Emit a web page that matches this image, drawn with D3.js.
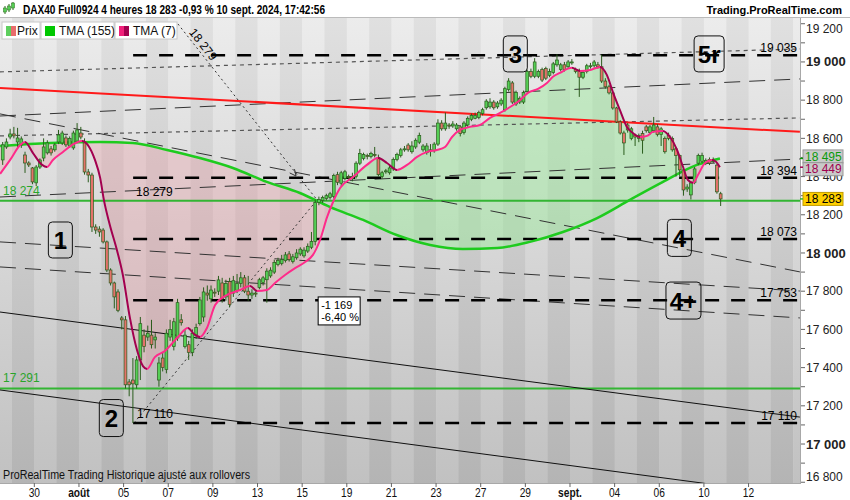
<!DOCTYPE html>
<html>
<head>
<meta charset="utf-8">
<script src="https://cdn.jsdelivr.net/npm/d3@7"></script>
<style>
  body { margin: 0; background: #fff; }
  svg { display: block; font-family: "Liberation Sans", Arial, sans-serif; }
</style>
</head>
<body>
<div id="chart"></div>
<script>
// ---- data ----
// bar index 0 = first 4h bar of 29 July, 6 bars per trading day
const firstBar = -3;
const candles = [ // [open, high, low, close]
  [18487,18581,18461,18566],[18555,18600,18545,18581],[18607,18650,18595,18623],
  // 29 Jul
  [18623,18660,18600,18613],[18581,18655,18555,18602],[18566,18610,18550,18597],[18513,18530,18419,18471],[18471,18480,18450,18461],[18445,18450,18360,18372],
  // 30 Jul
  [18367,18460,18350,18450],[18450,18495,18440,18487],[18497,18600,18480,18555],[18524,18590,18515,18576],[18545,18560,18510,18524],[18540,18575,18530,18566],
  // 31 Jul
  [18581,18644,18570,18618],[18576,18640,18565,18628],[18602,18615,18555,18566],[18560,18610,18550,18600],[18550,18640,18540,18628],[18586,18680,18575,18644],
  // 1 Aug
  [18628,18660,18595,18607],[18576,18600,18410,18424],[18424,18440,18370,18408],[18408,18420,18110,18136],[18136,18150,18100,18120],[18125,18140,18085,18110],
  // 2 Aug
  [18120,18130,18050,18058],[18058,18065,17900,17911],[17911,17920,17830,17843],[17843,17850,17710,17770],[17796,17810,17690,17700],[17660,17670,17600,17650],
  // 5 Aug
  [17650,17670,17290,17310],[17325,17340,17250,17310],[17335,17450,17110,17315],[17310,17460,17290,17440],[17440,17665,17335,17630],[17570,17600,17480,17510],
  // 6 Aug
  [17560,17620,17540,17580],[17570,17650,17500,17520],[17545,17580,17500,17560],[17335,17455,17300,17424],[17450,17480,17380,17400],[17390,17600,17370,17580],
  // 7 Aug
  [17560,17650,17540,17600],[17510,17660,17490,17640],[17555,17760,17540,17740],[17650,17680,17620,17635],[17510,17600,17500,17570],[17520,17540,17440,17480],
  // 8 Aug
  [17480,17600,17460,17580],[17570,17630,17550,17610],[17630,17770,17620,17754],[17665,17820,17640,17796],[17790,17830,17750,17780],[17760,17830,17740,17806],
  // 9 Aug
  [17795,17815,17770,17790],[17800,17880,17780,17859],[17843,17870,17740,17760],[17770,17860,17750,17840],[17850,17870,17715,17730],[17790,17880,17770,17855],
  // 12 Aug
  [17805,17890,17790,17840],[17840,17900,17820,17870],[17870,17885,17790,17800],[17800,17880,17750,17780],[17780,17810,17760,17790],[17790,17800,17770,17785],
  // 13 Aug
  [17820,17870,17810,17860],[17845,17880,17830,17870],[17860,17920,17740,17905],[17880,17925,17870,17910],[17900,17965,17890,17950],[17940,17975,17930,17960],
  // 14 Aug
  [17945,17990,17935,17965],[17960,18005,17950,17990],[17995,18010,17955,17965],[17955,17995,17945,17980],[17975,18020,17965,18000],[17995,18030,17985,18020],
  // 15 Aug
  [17985,18030,17975,18015],[18010,18050,18000,18035],[18030,18110,18020,18060],[18060,18280,18040,18265],[18265,18295,18250,18280],[18275,18300,18262,18290],
  // 16 Aug
  [18285,18310,18275,18300],[18290,18320,18280,18310],[18295,18415,18285,18405],[18410,18425,18355,18370],[18365,18430,18350,18420],[18390,18435,18380,18425],
  // 19 Aug
  [18400,18410,18380,18395],[18390,18420,18375,18400],[18400,18480,18390,18470],[18470,18545,18460,18520],[18495,18525,18485,18515],[18510,18520,18490,18505],
  // 20 Aug
  [18505,18530,18495,18520],[18515,18555,18500,18510],[18500,18515,18400,18410],[18400,18430,18390,18420],[18425,18440,18415,18430],[18420,18455,18410,18445],
  // 21 Aug
  [18440,18500,18430,18490],[18490,18525,18480,18515],[18510,18550,18500,18540],[18540,18560,18530,18545],[18565,18575,18530,18540],[18530,18585,18520,18560],
  // 22 Aug
  [18555,18600,18545,18590],[18580,18630,18570,18615],[18540,18570,18530,18560],[18525,18575,18515,18560],[18540,18570,18505,18535],[18535,18580,18525,18570],
  // 23 Aug
  [18570,18700,18560,18680],[18680,18695,18640,18650],[18650,18735,18640,18680],[18670,18680,18650,18665],[18665,18690,18655,18675],[18650,18680,18640,18670],
  // 26 Aug
  [18660,18670,18610,18625],[18630,18690,18620,18680],[18670,18715,18660,18705],[18700,18730,18690,18720],[18705,18735,18700,18720],[18710,18745,18700,18735],
  // 27 Aug
  [18730,18760,18720,18750],[18760,18805,18750,18795],[18765,18810,18755,18790],[18790,18800,18750,18760],[18765,18795,18755,18785],[18780,18810,18770,18800],
  // 28 Aug
  [18750,18870,18740,18860],[18855,18915,18845,18900],[18890,18900,18780,18790],[18780,18850,18770,18840],[18790,18820,18780,18810],[18790,18850,18780,18840],
  // 29 Aug
  [18845,18960,18835,18950],[18950,18965,18915,18925],[18925,19020,18915,19000],[18925,18960,18915,18950],[18960,18970,18895,18905],[18965,18975,18905,18915],
  // 30 Aug
  [18930,18965,18920,18950],[18945,19000,18935,18990],[18985,19040,18975,19010],[18960,18995,18950,18985],[18985,19000,18950,18960],[18975,19010,18965,19000],
  // 2 Sep
  [18995,19015,18985,19000],[18960,18970,18940,18950],[18955,18965,18817,18920],[18920,18955,18910,18945],[18950,18990,18940,18980],[18975,18995,18965,18980],
  // 3 Sep
  [18980,19010,18970,19000],[18985,19000,18965,18975],[18975,19037,18890,18900],[18900,18915,18860,18870],[18870,18880,18830,18838],[18838,18845,18750,18759],
  // 4 Sep
  [18759,18765,18680,18686],[18686,18695,18620,18628],[18628,18640,18513,18576],[18670,18680,18630,18644],[18600,18660,18590,18650],[18618,18625,18560,18607],
  // 5 Sep
  [18615,18625,18580,18600],[18625,18640,18520,18590],[18660,18670,18630,18640],[18630,18670,18620,18660],[18640,18712,18630,18670],[18660,18675,18610,18620],
  // 6 Sep
  [18620,18660,18560,18650],[18600,18610,18520,18530],[18615,18630,18590,18600],[18600,18610,18530,18540],[18545,18555,18400,18510],[18510,18515,18400,18435],
  // 9 Sep
  [18435,18445,18300,18330],[18335,18360,18320,18345],[18304,18375,18280,18367],[18370,18450,18360,18440],[18470,18520,18460,18510],[18480,18525,18470,18510],
  // 10 Sep
  [18470,18495,18460,18485],[18490,18500,18460,18470],[18480,18500,18470,18485],[18460,18470,18310,18320],[18310,18320,18246,18283]
];

// TMA(7) and TMA(155) read at sample bars
const tma7Bar = [-3.7,-1.0,1.7,3.0,5.1,7.6,8.9,10.5,13.2,15.6,18.3,19.9,21.8,23.2,24.2,25.8,27.7,29.3,31.2,33.1,34.7,35.8,37.9,40.6,44.1,46.8,48.4,50.0,51.9,54.1,56.8,60.8,63.5,65.4,68.0,70.2,72.9,75.6,78.3,80.4,82.3,84.2,85.8,87.7,91.2,94.9,97.9,100.3,103.0,105.7,108.4,111.1,113.7,115.9,117.8,119.9,122.6,125.3,128.0,130.7,133.4,136.1,138.2,140.9,143.3,144.9,146.8,150.0,152.2,154.9,157.6,159.4,161.1,162.9,164.8,166.4,168.3,170.2,171.8,174.5,176.4,178.3,179.9,181.2,182.6,183.9,185.8,187.7,188.8,189.8];
const tma7Val = [18414,18487,18565,18581,18524,18461,18450,18487,18529,18565,18586,18565,18487,18393,18278,18147,18016,17885,17660,17492,17408,17393,17455,17487,17560,17607,17576,17560,17607,17728,17775,17806,17827,17801,17806,17843,17885,17921,17953,17990,18068,18188,18267,18340,18398,18461,18497,18471,18435,18461,18503,18529,18539,18555,18607,18644,18660,18670,18707,18733,18764,18801,18838,18859,18890,18922,18943,18969,18953,18958,18974,18932,18838,18749,18660,18628,18607,18613,18634,18639,18607,18539,18450,18382,18367,18408,18471,18487,18477,18449];
const tma155Bar = [-3.7,9.7,23.2,32.0,41.2,50.0,58.9,68.0,76.9,84.9,93.9,102.9,111.9,120.7,129.9,138.7,147.6,156.8,165.6,174.5,183.6,189.8];
const tma155Val = [18560,18576,18581,18576,18539,18497,18445,18372,18314,18241,18173,18094,18042,18021,18026,18058,18110,18183,18278,18372,18461,18495];

// x axis: one label every second trading day (day 0 = 29 Jul)
const dayLabels = ['30','août','05','07','09','13','15','19','21','23','27','29','sept.','04','06','10','12'];
const dayLabelIdx = [1,3,5,7,9,11,13,15,17,19,21,23,25,27,29,31,33];
const boldDayLabels = ['août','sept.'];
const yTicks = d3.range(16800, 19201, 200);

// drawn objects
const levelValues = [19035, 18394, 18073, 17753, 17110];
const levelStartBar = 32.06;
const greenLevels = [18274, 17291];
const redLine = [[-3.73, 18864], [211.3, 18634]];
const shortDashLines = [
  [[-3.73, 18948], [211.3, 19068]],
  [[-3.73, 18613], [211.3, 18707]]
];
const longDashLines = [
  [[-3.73, 18717], [211.3, 18911]],
  [[-3.73, 18728], [211.3, 17901]],
  [[-3.73, 18293], [211.3, 18492]],
  [[-3.73, 18058], [211.3, 17801]],
  [[-3.73, 17927], [211.3, 17660]]
];
const solidLines = [
  [[-3.73, 17691], [211.3, 17141]],
  [[-3.73, 17283], [211.3, 16728]]
];
const dottedLines = [
  [[44.1, 19199], [81.5, 18278]],
  [[32.3, 17110], [81.5, 18278]]
];
const arrowAt = [75.85, 18403];
const waveBoxes = [
  { label: '1',  bar: 12.5,  price: 18068, w: 24, h: 36 },
  { label: '2',  bar: 26.2,  price: 17136, w: 24, h: 37 },
  { label: '3',  bar: 134.8, price: 19042, w: 24, h: 36 },
  { label: '4',  bar: 178.9, price: 18079, w: 24, h: 37 },
  { label: '4+', bar: 180.0, price: 17751, w: 35, h: 37 },
  { label: '5r', bar: 186.9, price: 19042, w: 30, h: 36 }
];
const priceTags = [
  { text: '18 495', value: 18495, color: '#0a9a0a', bg: '#c9c9c9', shift: -2 },
  { text: '18 449', value: 18449, color: '#a0004f', bg: '#c9c9c9', shift: 2 },
  { text: '18 283', value: 18283, color: '#000',    bg: '#ffd000', shift: 0 }
];

// ---- chart ----
const W = 850, H = 500;
const plot = { left: 0, right: 800, top: 18, bottom: 483 };

const svg = d3.select('#chart').append('svg').attr('width', W).attr('height', H);
const defs = svg.append('defs');

const x = d3.scaleLinear().domain([-3.726, 211.33]).range([plot.left, plot.right]);
const y = d3.scaleLinear().domain([16796, 19230]).range([plot.bottom, plot.top]);

const fmt = v => d3.format(',')(v).replace(/,/g, ' ');

svg.append('rect').attr('width', W).attr('height', H).attr('fill', '#fff');

defs.append('clipPath').attr('id', 'plotClip')
  .append('rect')
  .attr('x', plot.left).attr('y', plot.top)
  .attr('width', plot.right - plot.left).attr('height', plot.bottom - plot.top);

// band gradients
function bandGrad(id, top, bottom) {
  const g = defs.append('linearGradient').attr('id', id)
    .attr('x1', 0).attr('y1', 0).attr('x2', 0).attr('y2', 1);
  g.append('stop').attr('offset', '0%').attr('stop-color', top);
  g.append('stop').attr('offset', '100%').attr('stop-color', bottom);
}
bandGrad('bandLight', '#ececec', '#c1c1c1');
bandGrad('bandDark', '#e0e0e0', '#b4b4b4');

const g = svg.append('g').attr('clip-path', 'url(#plotClip)');

// day bands
const days = d3.range(-1, 36);
g.selectAll('.band').data(days).enter().append('rect')
  .attr('class', 'band')
  .attr('x', d => x(6 * d - 0.5))
  .attr('y', plot.top)
  .attr('width', d => x(6 * d + 5.5) - x(6 * d - 0.5) + 0.5)
  .attr('height', plot.bottom - plot.top)
  .attr('fill', d => (d % 2 === 0) ? 'url(#bandDark)' : 'url(#bandLight)');

// fills between TMA(7) and TMA(155)
const t7 = tma7Bar.map((b, i) => ({ b, v: tma7Val[i] }));
const t155 = tma155Bar.map((b, i) => ({ b, v: tma155Val[i] }));
const curve = d3.curveMonotoneX;

defs.append('clipPath').attr('id', 'below7').append('path')
  .attr('d', d3.area().curve(curve).x(d => x(d.b)).y0(plot.bottom + 20).y1(d => y(d.v))(t7));
defs.append('clipPath').attr('id', 'above7').append('path')
  .attr('d', d3.area().curve(curve).x(d => x(d.b)).y0(plot.top - 20).y1(d => y(d.v))(t7));

g.append('path')
  .attr('d', d3.area().curve(curve).x(d => x(d.b)).y0(plot.top - 20).y1(d => y(d.v))(t155))
  .attr('clip-path', 'url(#below7)')
  .attr('fill', 'rgba(150,235,150,0.45)');
g.append('path')
  .attr('d', d3.area().curve(curve).x(d => x(d.b)).y0(plot.bottom + 20).y1(d => y(d.v))(t155))
  .attr('clip-path', 'url(#above7)')
  .attr('fill', 'rgba(240,150,160,0.3)');

// green horizontal levels
g.selectAll('.glevel').data(greenLevels).enter().append('line')
  .attr('x1', plot.left).attr('x2', plot.right)
  .attr('y1', d => y(d)).attr('y2', d => y(d))
  .attr('stroke', '#33b533').attr('stroke-width', 2);

// trend lines
function drawSeg(seg, stroke, width, dash) {
  g.append('line')
    .attr('x1', x(seg[0][0])).attr('y1', y(seg[0][1]))
    .attr('x2', x(seg[1][0])).attr('y2', y(seg[1][1]))
    .attr('stroke', stroke).attr('stroke-width', width)
    .attr('stroke-dasharray', dash);
}
shortDashLines.forEach(s => drawSeg(s, '#555', 1.2, '4,4'));
longDashLines.forEach(s => drawSeg(s, '#333', 1, '16,9'));
solidLines.forEach(s => drawSeg(s, '#111', 1, null));
drawSeg(redLine, '#ff1a1a', 2, null);
dottedLines.forEach(s => drawSeg(s, '#333', 1, '2,3'));

// arrow head on the dotted line
{
  const p0 = [x(dottedLines[0][0][0]), y(dottedLines[0][0][1])];
  const p1 = [x(dottedLines[0][1][0]), y(dottedLines[0][1][1])];
  const ang = Math.atan2(p1[1] - p0[1], p1[0] - p0[0]);
  const tip = [x(arrowAt[0]), y(arrowAt[1])];
  const wing = a => [tip[0] - 7 * Math.cos(ang + a), tip[1] - 7 * Math.sin(ang + a)];
  const w1 = wing(0.45), w2 = wing(-0.45);
  g.append('path')
    .attr('d', `M${w1[0]},${w1[1]}L${tip[0]},${tip[1]}L${w2[0]},${w2[1]}`)
    .attr('fill', 'none').attr('stroke', '#333').attr('stroke-width', 1);
}

// thick dashed levels
g.selectAll('.level').data(levelValues).enter().append('line')
  .attr('x1', x(levelStartBar)).attr('x2', plot.right)
  .attr('y1', d => y(d)).attr('y2', d => y(d))
  .attr('stroke', '#000').attr('stroke-width', 2.5)
  .attr('stroke-dasharray', '14,12');

// TMA(155)
g.append('path')
  .attr('d', d3.line().curve(curve).x(d => x(d.b)).y(d => y(d.v))(t155))
  .attr('fill', 'none').attr('stroke', '#1ecb1e').attr('stroke-width', 2.5);

// candles
const bars = candles.map((c, i) => ({ i: firstBar + i, o: c[0], h: c[1], l: c[2], c: c[3] }));
const bodyW = 2.8;
const cg = g.append('g');
cg.selectAll('.wick').data(bars).enter().append('line')
  .attr('x1', d => x(d.i)).attr('x2', d => x(d.i))
  .attr('y1', d => y(d.h)).attr('y2', d => y(d.l))
  .attr('stroke', '#2a5c1c').attr('stroke-width', 1);
cg.selectAll('.body').data(bars).enter().append('rect')
  .attr('x', d => x(d.i) - bodyW / 2)
  .attr('y', d => y(Math.max(d.o, d.c)))
  .attr('width', bodyW)
  .attr('height', d => Math.max(1, Math.abs(y(d.o) - y(d.c))))
  .attr('fill', d => d.c >= d.o ? '#55cf55' : '#e5726a')
  .attr('stroke', '#2a5c1c').attr('stroke-width', 0.7);

// TMA(7) coloured by direction
const tGrad = defs.append('linearGradient').attr('id', 'tma7Grad')
  .attr('gradientUnits', 'userSpaceOnUse')
  .attr('x1', plot.left).attr('x2', plot.right).attr('y1', 0).attr('y2', 0);
for (let i = 0; i < t7.length - 1; i++) {
  const col = t7[i + 1].v < t7[i].v ? '#a3004f' : '#ff2a8a';
  tGrad.append('stop').attr('offset', x(t7[i].b) / plot.right).attr('stop-color', col);
  tGrad.append('stop').attr('offset', x(t7[i + 1].b) / plot.right).attr('stop-color', col);
}
g.append('path')
  .attr('d', d3.line().curve(curve).x(d => x(d.b)).y(d => y(d.v))(t7))
  .attr('fill', 'none').attr('stroke', 'url(#tma7Grad)').attr('stroke-width', 2);

// level labels on the right
g.selectAll('.lvlLabel').data(levelValues).enter().append('text')
  .attr('x', 797).attr('y', d => y(d) - 3)
  .attr('text-anchor', 'end').attr('font-size', 12).attr('fill', '#000')
  .text(fmt);

// labels on the left
g.selectAll('.gLabel').data(greenLevels).enter().append('text')
  .attr('x', 3).attr('y', d => y(d) - 6)
  .attr('font-size', 12).attr('fill', '#2aa52a')
  .text(fmt);
g.append('text').attr('x', x(32.3) + 2).attr('y', y(18279) - 4)
  .attr('font-size', 12).text(fmt(18279));
g.append('text').attr('x', x(32.3) + 3).attr('y', y(17110) - 5)
  .attr('font-size', 12).text(fmt(17110));
{
  const p0 = [x(dottedLines[0][0][0]), y(dottedLines[0][0][1])];
  const p1 = [x(dottedLines[0][1][0]), y(dottedLines[0][1][1])];
  const deg = Math.atan2(p1[1] - p0[1], p1[0] - p0[0]) * 180 / Math.PI;
  const t = 0.06;
  const px = p0[0] + (p1[0] - p0[0]) * t, py = p0[1] + (p1[1] - p0[1]) * t;
  g.append('text')
    .attr('transform', `translate(${px},${py}) rotate(${deg})`)
    .attr('dy', -3).attr('font-size', 12).text(fmt(18279));
}

// wave count boxes
const wb = g.selectAll('.wave').data(waveBoxes).enter().append('g')
  .attr('transform', d => `translate(${x(d.bar)},${y(d.price)})`);
wb.append('rect')
  .attr('x', d => -d.w / 2).attr('y', d => -d.h / 2)
  .attr('width', d => d.w).attr('height', d => d.h)
  .attr('rx', 4).attr('fill', 'none').attr('stroke', '#111').attr('stroke-width', 1);
wb.append('text')
  .attr('text-anchor', 'middle').attr('y', 9)
  .attr('font-size', 24).attr('font-weight', 'bold').attr('fill', '#000')
  .text(d => d.label);

// move box
{
  const bx = x(81.8), by = y(17770);
  g.append('rect').attr('x', bx).attr('y', by).attr('width', 42).attr('height', 28)
    .attr('fill', '#fff').attr('stroke', '#000').attr('stroke-width', 1);
  g.append('text').attr('x', bx + 3).attr('y', by + 12).attr('font-size', 11).text('-1 169');
  g.append('text').attr('x', bx + 3).attr('y', by + 24).attr('font-size', 11).text('-6,40 %');
}

// bottom-left caption
svg.append('text').attr('x', 3).attr('y', 479)
  .attr('font-size', 12).attr('textLength', 247).attr('lengthAdjust', 'spacingAndGlyphs')
  .attr('fill', '#111')
  .text('ProRealTime Trading  Historique ajusté aux rollovers');

// ---- axes ----
svg.append('rect').attr('x', plot.right).attr('y', plot.top).attr('width', W - plot.right).attr('height', H - plot.top).attr('fill', '#fff');
svg.append('rect').attr('x', 0).attr('y', plot.bottom).attr('width', W).attr('height', H - plot.bottom).attr('fill', '#fff');
svg.append('line').attr('x1', plot.right + 0.5).attr('x2', plot.right + 0.5)
  .attr('y1', plot.top).attr('y2', plot.bottom).attr('stroke', '#a8a8a8');
svg.append('line').attr('x1', 0).attr('x2', plot.right + 1)
  .attr('y1', plot.bottom + 0.5).attr('y2', plot.bottom + 0.5).attr('stroke', '#a8a8a8');

// y axis
const yMinor = d3.range(16800, 19201, 100);
svg.selectAll('.ytick').data(yMinor).enter().append('line')
  .attr('x1', plot.right + 1).attr('x2', plot.right + 5)
  .attr('y1', d => y(d)).attr('y2', d => y(d))
  .attr('stroke', '#666');
svg.selectAll('.ylab').data(yTicks).enter().append('text')
  .attr('x', 806)
  .attr('y', d => Math.min(477, Math.max(29, y(d))))
  .attr('dy', '0.35em')
  .attr('font-size', d => d % 1000 === 0 ? 13 : 12)
  .attr('font-weight', d => d % 1000 === 0 ? 'bold' : 'normal')
  .attr('fill', '#222')
  .text(fmt);

// price tags
const tags = svg.selectAll('.tag').data(priceTags).enter().append('g')
  .attr('transform', d => `translate(${plot.right + 3},${y(d.value) + d.shift})`);
tags.append('rect').attr('x', 0).attr('y', -6.5).attr('width', 40).attr('height', 13)
  .attr('fill', d => d.bg).attr('stroke', d => d3.color(d.bg).darker(0.8));
tags.append('text').attr('x', 2).attr('dy', '0.35em').attr('font-size', 12)
  .attr('fill', d => d.color).text(d => d.text);
svg.selectAll('.tagTick').data(priceTags).enter().append('line')
  .attr('x1', plot.right).attr('x2', plot.right + 3)
  .attr('y1', d => y(d.value)).attr('y2', d => y(d.value))
  .attr('stroke', d => d.color === '#000' ? '#33b533' : d.color).attr('stroke-width', 1.5);

// x axis
svg.selectAll('.xtick').data(dayLabelIdx).enter().append('line')
  .attr('x1', d => x(6 * d - 0.5)).attr('x2', d => x(6 * d - 0.5))
  .attr('y1', plot.bottom).attr('y2', plot.bottom + 4)
  .attr('stroke', '#666');
svg.selectAll('.xlab').data(dayLabels).enter().append('text')
  .attr('x', (d, i) => x(6 * dayLabelIdx[i] - 0.5))
  .attr('y', 497)
  .attr('text-anchor', 'middle')
  .attr('font-size', 12)
  .attr('font-weight', d => boldDayLabels.includes(d) ? 'bold' : 'normal')
  .attr('transform', (d, i) => `translate(${x(6 * dayLabelIdx[i] - 0.5)},497) scale(0.85,1) translate(${-x(6 * dayLabelIdx[i] - 0.5)},-497)`)
  .attr('fill', '#111')
  .text(d => d);

// ---- header ----
svg.append('rect').attr('width', W).attr('height', plot.top).attr('fill', '#fff');
svg.append('line').attr('x1', 0).attr('x2', W).attr('y1', plot.top - 0.5).attr('y2', plot.top - 0.5).attr('stroke', '#bbb');
[[5, 6, 14, 8, 12], [9, 4, 12, 6, 10], [13, 2, 10, 3, 8]].forEach(c => {
  svg.append('line').attr('x1', c[0]).attr('x2', c[0]).attr('y1', c[1]).attr('y2', c[2]).attr('stroke', '#2a6a1a');
  svg.append('rect').attr('x', c[0] - 1.5).attr('y', c[3]).attr('width', 3).attr('height', c[4] - c[3]).attr('fill', '#55cf55').attr('stroke', '#2a6a1a').attr('stroke-width', 0.5);
});
svg.append('text').attr('x', 23).attr('y', 14)
  .attr('font-size', 12).attr('font-weight', 'bold')
  .attr('textLength', 302).attr('lengthAdjust', 'spacingAndGlyphs')
  .text('DAX40 Full0924 4 heures 18 283 -0,93 % 10 sept. 2024, 17:42:56');
svg.append('text').attr('x', 842).attr('y', 14).attr('text-anchor', 'end')
  .attr('font-size', 11).attr('font-weight', 'bold')
  .text('Trading.ProRealTime.com');

// legend
const legendItems = [
  { label: 'Prix', x: 2, w: 38, c1: '#5ecf5e', c2: '#e86c6c' },
  { label: 'TMA (155)', x: 41, w: 73, c1: '#00c800', c2: '#00c800' },
  { label: 'TMA (7)', x: 115, w: 62, c1: '#f0207a', c2: '#a3004f' }
];
const lg = svg.selectAll('.leg').data(legendItems).enter().append('g')
  .attr('transform', d => `translate(${d.x},22)`);
lg.append('rect').attr('width', d => d.w).attr('height', 17)
  .attr('fill', '#fff').attr('stroke', '#c8c8c8');
lg.append('rect').attr('x', 4).attr('y', 4).attr('width', 5).attr('height', 10).attr('fill', d => d.c1);
lg.append('rect').attr('x', 9).attr('y', 4).attr('width', 5).attr('height', 10).attr('fill', d => d.c2);
lg.append('text').attr('x', d => d.label === 'Prix' ? 15 : 18).attr('y', 13)
  .attr('font-size', 12).attr('fill', '#111').text(d => d.label);
</script>
</body>
</html>
